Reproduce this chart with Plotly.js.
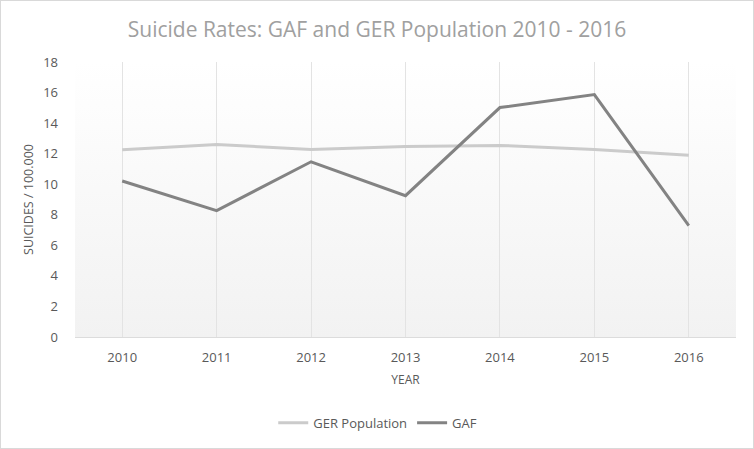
<!DOCTYPE html>
<html><head><meta charset="utf-8">
<script src="https://cdn.plot.ly/plotly-3.0.1.min.js"></script>
<style>html,body{margin:0;padding:0;background:#fff}#c{width:754px;height:449px;box-sizing:border-box;border:1px solid #d9d9d9}</style>
</head><body><div id="c"></div>
<script>
const years = ['2010','2011','2012','2013','2014','2015','2016'];
const gerPopulation = [12.25, 12.6, 12.27, 12.47, 12.54, 12.27, 11.89];
const gaf = [10.21, 8.27, 11.47, 9.25, 15.02, 15.87, 7.29];

const grad = 'data:image/svg+xml;utf8,' + encodeURIComponent(
 '<svg xmlns="http://www.w3.org/2000/svg" width="100" height="100" preserveAspectRatio="none"><defs><linearGradient id="g" x1="0" y1="0" x2="0" y2="1"><stop offset="0" stop-color="#ffffff"/><stop offset="1" stop-color="#f2f2f2"/></linearGradient></defs><rect width="100" height="100" fill="url(#g)"/></svg>');

const font = '"Open Sans", sans-serif';
const data = [
 {x: years, y: gerPopulation, name: 'GER Population', type: 'scatter', mode: 'lines',
  line: {color: '#cbcbcb', width: 3}},
 {x: years, y: gaf, name: 'GAF', type: 'scatter', mode: 'lines',
  line: {color: '#838383', width: 3}}
];
const layout = {
 width: 752, height: 447,
 margin: {l: 74, r: 17, t: 61, b: 110},
 paper_bgcolor: '#ffffff', plot_bgcolor: 'rgba(0,0,0,0)',
 font: {family: font, color: '#595959', size: 13},
 title: {text: 'Suicide Rates: GAF and GER Population 2010 - 2016', x: 0.5, xanchor: 'center', y: 0.935, yanchor: 'middle',
  font: {family: font, size: 21, color: '#a0a0a0'}},
 images: [{source: grad, xref: 'x domain', yref: 'y domain', x: 0, y: 1, sizex: 1, sizey: 1,
  xanchor: 'left', yanchor: 'top', sizing: 'stretch', layer: 'below'}],
 xaxis: {type: 'category', range: [-0.5, 6.5], showgrid: true, gridcolor: '#e3e3e3', gridwidth: 1,
  showline: true, linecolor: '#dcdcdc', linewidth: 1, ticks: '', zeroline: false,
  tickfont: {size: 13, color: '#595959'}, ticklabelstandoff: 8,
  title: {text: 'YEAR', font: {size: 12, color: '#595959'}, standoff: 11}},
 yaxis: {range: [0, 18], dtick: 2, showgrid: false, zeroline: false, showline: false, ticks: '',
  tickfont: {size: 13, color: '#595959'}, ticklabelstandoff: 16,
  title: {text: 'SUICIDES / 100.000', font: {size: 12.5, color: '#595959'}, standoff: 6}},
 legend: {orientation: 'h', x: 0.458, xanchor: 'center', y: -0.307, yanchor: 'middle',
  font: {size: 13, color: '#595959'}, itemwidth: 30, tracegroupgap: 0},
 showlegend: true
};
Plotly.newPlot('c', data, layout, {displayModeBar: false, staticPlot: true});
</script></body></html>
